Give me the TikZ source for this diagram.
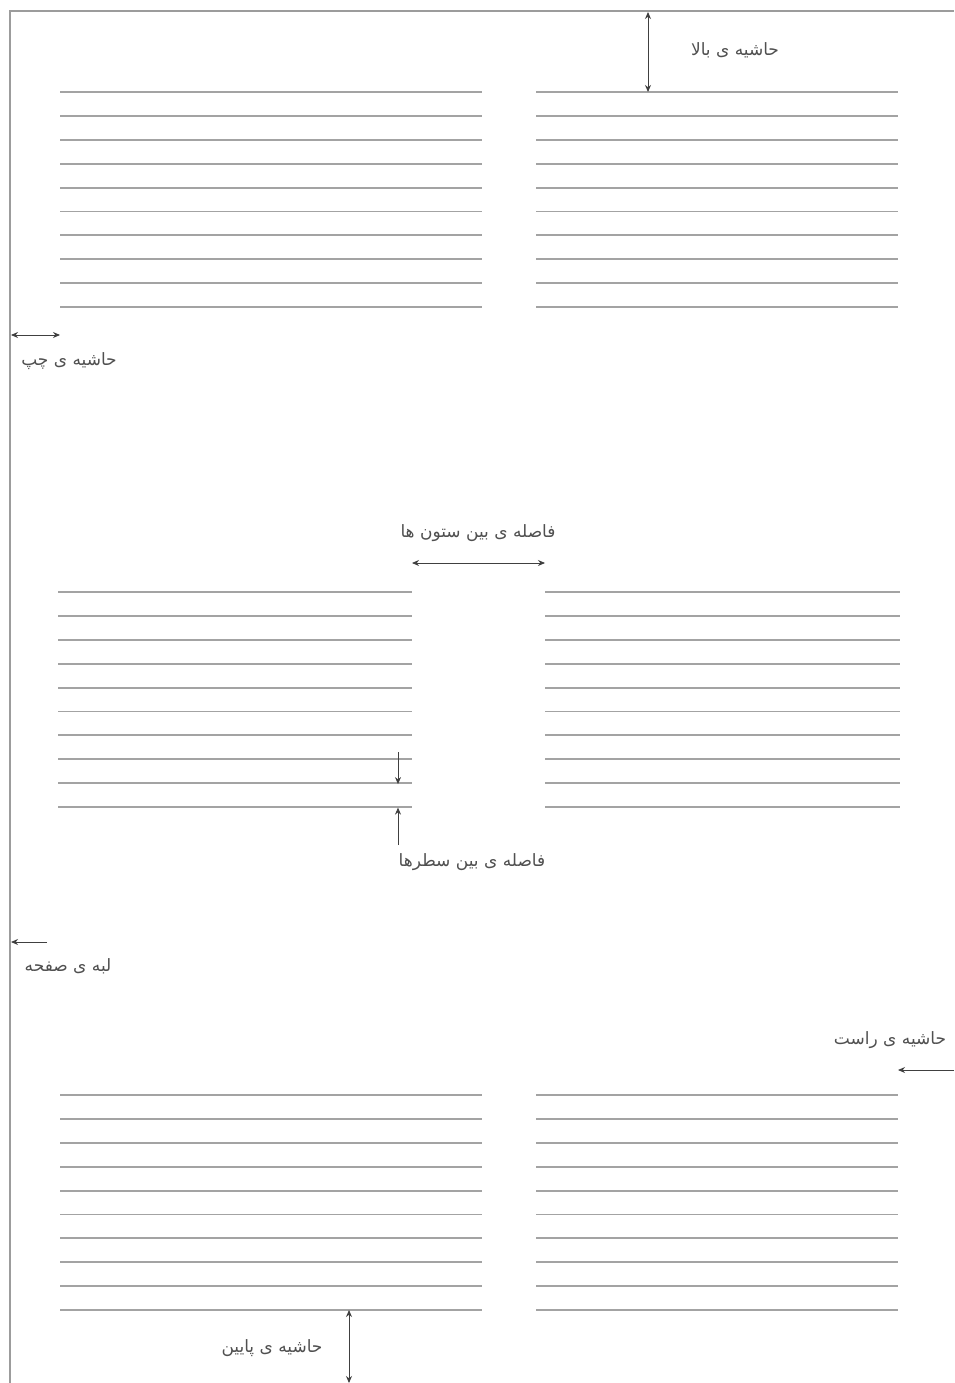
\documentclass[tikz,border=0pt]{standalone}
\usepackage{fontspec}
\usetikzlibrary{arrows.meta}
\TeXXeTstate=1
\newfontfamily\arabicfont[Script=Arabic]{DejaVu Sans}
\definecolor{rulegray}{HTML}{A3A3A3}
\definecolor{edgegray}{HTML}{9C9C9C}
\definecolor{arrowgray}{HTML}{404040}
\definecolor{textgray}{HTML}{505050}
\tikzset{
  textline/.style={draw=rulegray, line width=1.9pt},
  pageedge/.style={draw=edgegray, line width=1.9pt},
  dimarrow/.style={draw=arrowgray, line width=0.9pt, {Stealth[length=7pt,width=6pt]}-{Stealth[length=7pt,width=6pt]}},
  onearrow/.style={draw=arrowgray, line width=0.9pt, -{Stealth[length=7pt,width=6pt]}},
  label/.style={font=\arabicfont\fontsize{17}{20}\selectfont, text=textgray, inner sep=1pt}
}
\begin{document}
\begin{tikzpicture}[x=1pt,y=-1pt]
\useasboundingbox[fill=white] (0,0) rectangle (954,1383);
% page edge
\draw[pageedge] (10,1383) -- (10,11) -- (954,11);
% text line groups
\foreach \i in {0,...,9}{
  \draw[textline] (60,{92+23.9*\i}) -- (482,{92+23.9*\i});
  \draw[textline] (536,{92+23.9*\i}) -- (898,{92+23.9*\i});
  \draw[textline] (58,{592+23.9*\i}) -- (412,{592+23.9*\i});
  \draw[textline] (545,{592+23.9*\i}) -- (900,{592+23.9*\i});
  \draw[textline] (60,{1095+23.9*\i}) -- (482,{1095+23.9*\i});
  \draw[textline] (536,{1095+23.9*\i}) -- (898,{1095+23.9*\i});
}
% coordinates
\coordinate (topA) at (648,12);
\coordinate (topB) at (648,92);
\coordinate (leftA) at (11,335);
\coordinate (leftB) at (60,335);
\coordinate (gapA) at (412,563);
\coordinate (gapB) at (545,563);
\coordinate (lsA) at (398,752);
\coordinate (lsB) at (398,784.1);
\coordinate (lsC) at (398,845);
\coordinate (lsD) at (398,807.6);
\coordinate (edgeA) at (47,942);
\coordinate (edgeB) at (11,942);
\coordinate (rightA) at (954,1070);
\coordinate (rightB) at (898,1070);
\coordinate (botA) at (349,1310);
\coordinate (botB) at (349,1383);
% arrows
\draw[dimarrow] (topA) -- (topB);
\draw[dimarrow] (leftA) -- (leftB);
\draw[dimarrow] (gapA) -- (gapB);
\draw[onearrow] (lsA) -- (lsB);
\draw[onearrow] (lsC) -- (lsD);
\draw[onearrow] (edgeA) -- (edgeB);
\draw[onearrow] (rightA) -- (rightB);
\draw[dimarrow] (botA) -- (botB);
% labels
\node[label] (ltop) at (735,50) {\beginR حاشیه ی بالا\endR};
\node[label] (lleft) at (69,361) {\beginR حاشیه ی چپ\endR};
\node[label] (lgap) at (478,533) {\beginR فاصله ی بین ستون ها\endR};
\node[label] (lls) at (472,862) {\beginR فاصله ی بین سطرها\endR};
\node[label] (ledge) at (68,966) {\beginR لبه ی صفحه\endR};
\node[label] (lright) at (890,1040) {\beginR حاشیه ی راست\endR};
\node[label] (lbot) at (272,1348) {\beginR حاشیه ی پایین\endR};
\end{tikzpicture}
\end{document}
